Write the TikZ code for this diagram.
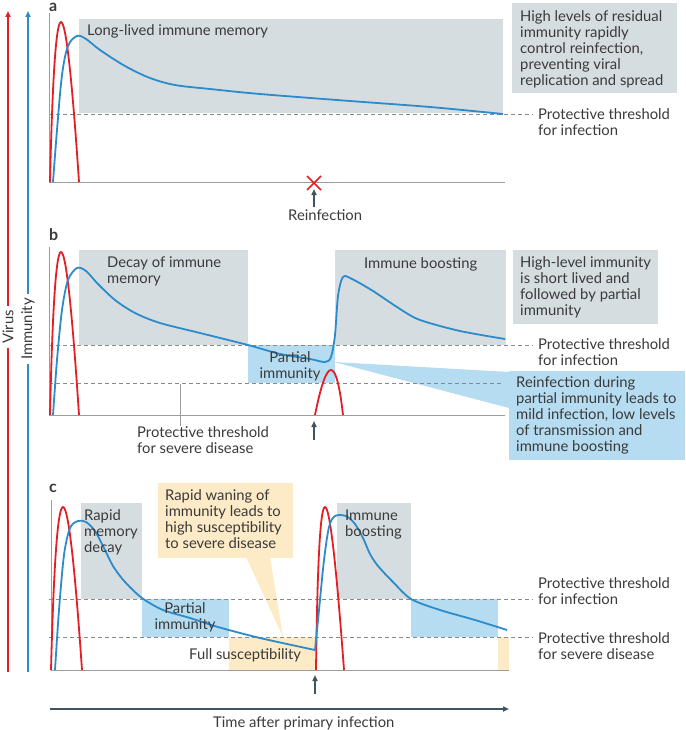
\documentclass[tikz,border=0pt]{standalone}
\usepackage{fontspec}
\setmainfont{Lato}
\usetikzlibrary{arrows.meta}
\definecolor{vred}{HTML}{E31E24}
\definecolor{iblue}{HTML}{2B8BCB}
\definecolor{boxgray}{HTML}{D6DDE1}
\definecolor{lblue}{HTML}{B5DCF1}
\definecolor{lorange}{HTML}{FDEAC6}
\definecolor{txt}{HTML}{3A3A3A}
\definecolor{axgray}{HTML}{9C9C9C}
\definecolor{dashgray}{HTML}{8A8A8A}
\definecolor{darkax}{HTML}{3F5360}
\begin{document}
\begin{tikzpicture}[x=1pt,y=-1pt,
  every node/.style={inner sep=0pt, text=txt, font=\fontsize{14.8}{16}\selectfont},
  axisline/.style={draw=axgray, line width=0.8pt},
  thr/.style={draw=dashgray, line width=0.7pt, dash pattern=on 4pt off 3pt},
  virus/.style={draw=vred, line width=1.8pt},
  immune/.style={draw=iblue, line width=1.8pt, line join=round},
  gbox/.style={fill=boxgray},
  bbox/.style={fill=lblue},
  obox/.style={fill=lorange},
  lbl/.style={anchor=base west},
  ml/.style={anchor=north west, align=left},
  panel/.style={anchor=base west, font=\fontsize{16}{16}\selectfont\bfseries},
  tip/.style={-{Triangle[length=6pt,width=5pt]}},
]
\useasboundingbox (0,0) rectangle (685,730);

% ---------- left axes ----------
\coordinate (vbot) at (8,672); \coordinate (vtop) at (8,11);
\coordinate (ibot) at (28,672); \coordinate (itop) at (28,11);
\draw[draw=vred, line width=1.5pt, tip] (vbot) -- (vtop);
\draw[draw=iblue, line width=1.5pt, tip] (ibot) -- (itop);
\node[rotate=90, fill=white, inner ysep=2pt, inner xsep=4pt] (virusl) at (8,327) {Virus};
\node[rotate=90, fill=white, inner ysep=2pt, inner xsep=4pt] (immunl) at (28,329) {Immunity};

% ================= panel a =================
\fill[gbox] (79,19) rectangle (503,113);
\fill[gbox] (512,3) rectangle (677,93);
\draw[thr] (49,114) -- (533,114);
\draw[axisline] (49,13) -- (49,182) -- (505,182);
\draw[virus] (50,182) .. controls (55,-31.3) and (64.7,-31.3) .. (79,182);
\draw[immune] plot[smooth, tension=0.55] coordinates {(53,182) (57,130) (62,75) (68,46) (77,36) (86,39) (100,50) (125,66) (150,78) (175,85) (210,89) (260,94) (350,101) (430,107) (503,114)};
\node[panel] (pa) at (49,11.5) {a};
\node[lbl] (lla) at (87,36) {Long-lived immune memory};
\node[ml] (hla) at (520,10) {High levels of residual\\immunity rapidly\\control reinfection,\\preventing viral\\replication and spread};
\node[ml] (pta) at (538,108) {Protective threshold\\for infection};
\draw[vred, line width=1.6pt] (307,176) -- (321,190) (307,190) -- (321,176);
\node[lbl] (reinf) at (288,220) {Reinfection};
\coordinate (ra0) at (314,207); \coordinate (ra1) at (314,189);
\draw[darkax, line width=1.5pt, tip] (ra0) -- (ra1);

% ================= panel b =================
\fill[gbox] (79,250) rectangle (248,345);
\fill[gbox] (335,250) rectangle (506,345);
\fill[gbox] (513,250) rectangle (658,324);
\fill[bbox] (248,345) rectangle (335,383);
\fill[lblue] (334,362) -- (509,372) -- (509,408) -- cycle;
\fill[bbox] (509,371) rectangle (685,460);
\draw[thr] (49,345) -- (533,345);
\draw[thr] (49,383) -- (502,383);
\draw[axisline] (49,247) -- (49,415) -- (505,415);
\draw[virus] (50,415) .. controls (55,197.7) and (64.7,197.7) .. (79,415);
\draw[virus] (315,415) .. controls (327,355) and (336.3,355) .. (343,415);
\draw[immune] plot[smooth, tension=0.5] coordinates {(53,415) (57,360) (62,310) (68,280) (77,268) (86,271) (98,284) (115,300) (135,313) (160,323) (200,333) (248,345) (280,354) (310,359) (325,362) (331,357) (335,335) (338,296) (343,277) (352,279) (373,291) (400,309) (420,320) (460,331) (505,339)};
\node[panel] (pb) at (49,240) {b};
\node[ml] (decb) at (107,257) {Decay of immune\\memory};
\node[lbl] (boob) at (364,268) {Immune boosting};
\node[ml] (hlb) at (520,256) {High-level immunity\\is short lived and\\followed by partial\\immunity};
\node[ml] (ptb) at (538,338) {Protective threshold\\for infection};
\node[anchor=north, align=center] (parb) at (290,351) {Partial\\immunity};
\node[ml] (sevb) at (137,426) {Protective threshold\\for severe disease};
\coordinate (sevline) at (180,384);
\draw[axgray, line width=0.8pt] (sevline) -- (sevline |- sevb.north);
\node[ml] (rdb) at (516,376) {Reinfection during\\partial immunity leads to\\mild infection, low levels\\of transmission and\\immune boosting};
\coordinate (rb0) at (314,440); \coordinate (rb1) at (314,421);
\draw[darkax, line width=1.5pt, tip] (rb0) -- (rb1);

% ================= panel c =================
\fill[gbox] (81,503) rectangle (142,599);
\fill[bbox] (142,599) rectangle (229,637);
\fill[obox] (229,637) rectangle (316,670);
\fill[gbox] (337,503) rectangle (411,599);
\fill[bbox] (411,599) rectangle (498,637);
\fill[obox] (498,637) rectangle (509,670);
\fill[obox] (158,483) rectangle (293,558);
\fill[lorange] (246,557) -- (270,557) -- (283,637) -- cycle;
\draw[thr] (49,599) -- (533,599);
\draw[thr] (49,637) -- (533,637);
\draw[axisline] (51,500) -- (51,670) -- (509,670);
\draw[virus] (51,670) .. controls (56.7,452.7) and (67,452.7) .. (82,670);
\draw[virus] (316,670) .. controls (318.7,452.7) and (328,452.7) .. (344,670);
\draw[immune] plot[smooth, tension=0.5] coordinates {(55,670) (59,610) (64,555) (70,528) (78,521) (86,522) (95,531) (104,548) (113,566) (125,582) (142,598) (163,610) (190,618) (218,627) (260,638) (315,650)};
\draw[immune] plot[smooth, tension=0.5] coordinates {(315,650) (319,610) (324,560) (329,527) (335,516) (346,516) (355,524) (363,538) (370,554) (378,566) (393,582) (411,599) (440,610) (475,620) (507,630)};
\node[panel] (pc) at (49,492) {c};
\node[ml] (rmd) at (84,509) {Rapid\\memory\\decay};
\node[ml] (rwc) at (165,489) {Rapid waning of\\immunity leads to\\high susceptibility\\to severe disease};
\node[anchor=north, align=center] (parc) at (185,602) {Partial\\immunity};
\node[lbl] (fsc) at (189,659) {Full susceptibility};
\node[ml] (booc) at (345,510) {Immune\\boosting};
\node[ml] (ptc) at (538,577) {Protective threshold\\for infection};
\node[ml] (sevc) at (538,632) {Protective threshold\\for severe disease};
\coordinate (rc0) at (315,694); \coordinate (rc1) at (315,675);
\draw[darkax, line width=1.5pt, tip] (rc0) -- (rc1);

% ---------- time axis ----------
\coordinate (t0) at (50,709); \coordinate (t1) at (509,709);
\draw[darkax, line width=1.5pt, tip] (t0) -- (t1);
\node[lbl] (timel) at (213,727) {Time after primary infection};
\end{tikzpicture}
\end{document}
